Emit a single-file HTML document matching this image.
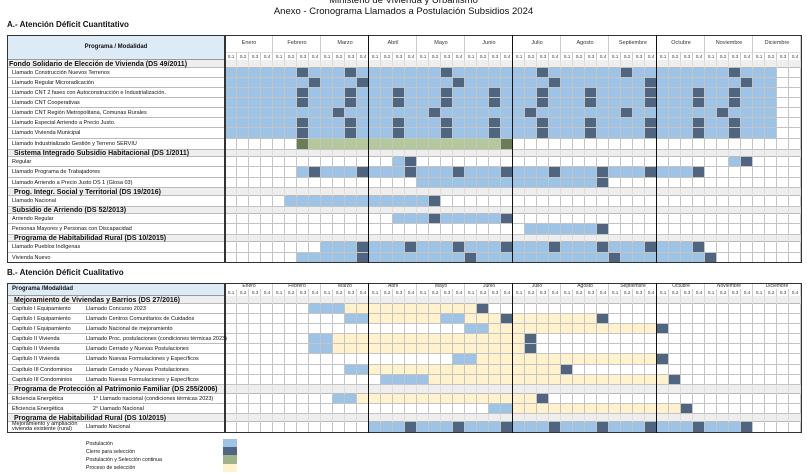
<!DOCTYPE html>
<html><head><meta charset="utf-8">
<style>
*{margin:0;padding:0;box-sizing:border-box}
body{width:807px;height:473px;background:#fff;position:relative;overflow:hidden;font-family:"Liberation Sans",sans-serif;color:#111}
.a{position:absolute;white-space:nowrap}
.t{font-size:9.5px;left:0;width:807px;text-align:center}
.sec{font-size:8px;font-weight:bold;left:7px}
.lbl{font-size:5.5px;line-height:1}
.grp{font-size:7px;font-weight:bold;line-height:1}
.mon{display:flex;font-size:5.5px;color:#333}
.mon div{flex:1;text-align:center}
.ss{display:flex;font-size:4.3px;color:#333}
.ss span{width:12px;text-align:center}
.leg{font-size:5.2px;left:86px}
</style></head><body>
<div class="a t" style="top:-5px">Ministerio de Vivienda y Urbanismo</div>
<div class="a t" style="top:6px">Anexo - Cronograma Llamados a Postulación Subsidios 2024</div>
<div class="a sec" style="top:20px">A.- Atención Déficit Cuantitativo</div>
<div class="a sec" style="top:268px">B.- Atención Déficit Cualitativo</div>
<div id="g"></div>

<div class="a" style="left:7px;top:35px;width:218px;height:25px;line-height:25px;text-align:center;font-size:6px;font-weight:bold">Programa / Modalidad</div>
<div class="a mon" style="left:225px;top:40px;width:576px">
<div>Enero</div><div>Febrero</div><div>Marzo</div><div>Abril</div><div>Mayo</div><div>Junio</div><div>Julio</div><div>Agosto</div><div>Septiembre</div><div>Octubre</div><div>Noviembre</div><div>Diciembre</div></div>
<div class="a ss" style="left:225px;top:54px">
<span>S.1</span><span>S.2</span><span>S.3</span><span>S.4</span><span>S.1</span><span>S.2</span><span>S.3</span><span>S.4</span><span>S.1</span><span>S.2</span><span>S.3</span><span>S.4</span><span>S.1</span><span>S.2</span><span>S.3</span><span>S.4</span><span>S.1</span><span>S.2</span><span>S.3</span><span>S.4</span><span>S.1</span><span>S.2</span><span>S.3</span><span>S.4</span><span>S.1</span><span>S.2</span><span>S.3</span><span>S.4</span><span>S.1</span><span>S.2</span><span>S.3</span><span>S.4</span><span>S.1</span><span>S.2</span><span>S.3</span><span>S.4</span><span>S.1</span><span>S.2</span><span>S.3</span><span>S.4</span><span>S.1</span><span>S.2</span><span>S.3</span><span>S.4</span><span>S.1</span><span>S.2</span><span>S.3</span><span>S.4</span></div>

<div class="a grp" style="left:9px;top:60.5px">Fondo Solidario de Elección de Vivienda (DS 49/2011)</div>
<div class="a lbl" style="left:12px;top:70.5px">Llamado Construcción Nuevos Terrenos</div>
<div class="a lbl" style="left:12px;top:80.5px">Llamado Regular Microradicación</div>
<div class="a lbl" style="left:12px;top:90.5px">Llamado CNT 2 fases con Autoconstrucción e Industrialización.</div>
<div class="a lbl" style="left:12px;top:100.5px">Llamado CNT Cooperativas</div>
<div class="a lbl" style="left:12px;top:110.5px">Llamado CNT Región Metropolitana, Comunas Rurales</div>
<div class="a lbl" style="left:12px;top:120.5px">Llamado Especial Arriendo a Precio Justo.</div>
<div class="a lbl" style="left:12px;top:130.5px">Llamado Vivienda Municipal</div>
<div class="a lbl" style="left:12px;top:141.5px">Llamado Industrializado Gestión y Terreno SERVIU</div>
<div class="a grp" style="left:14px;top:150px">Sistema Integrado Subsidio Habitacional (DS 1/2011)</div>
<div class="a lbl" style="left:12px;top:159.5px">Regular</div>
<div class="a lbl" style="left:12px;top:169.5px">Llamado Programa de Trabajadores</div>
<div class="a lbl" style="left:12px;top:180.5px">Llamado Arriendo a Precio Justo DS 1 (Glosa 03)</div>
<div class="a grp" style="left:14px;top:188.5px">Prog. Integr. Social y Territorial (DS 19/2016)</div>
<div class="a lbl" style="left:12px;top:198.5px">Llamado Nacional</div>
<div class="a grp" style="left:12px;top:207px">Subsidio de Arriendo (DS 52/2013)</div>
<div class="a lbl" style="left:12px;top:216.5px">Arriendo Regular</div>
<div class="a lbl" style="left:12px;top:226.5px">Personas Mayores y Personas con Discapacidad</div>
<div class="a grp" style="left:14px;top:235px">Programa de Habitabilidad Rural (DS 10/2015)</div>
<div class="a lbl" style="left:12px;top:244.5px">Llamado Pueblos Indígenas</div>
<div class="a lbl" style="left:12px;top:255.5px">Vivienda Nuevo</div>

<div class="a" style="left:12px;top:285.5px;font-size:6px;font-weight:bold">Programa /Modalidad</div>
<div class="a mon" style="left:225px;top:283px;width:576px;font-size:5px">
<div>Enero</div><div>Febrero</div><div>Marzo</div><div>Abril</div><div>Mayo</div><div>Junio</div><div>Julio</div><div>Agosto</div><div>Septiembre</div><div>Octubre</div><div>Noviembre</div><div>Diciembre</div></div>
<div class="a ss" style="left:225px;top:290px">
<span>S.1</span><span>S.2</span><span>S.3</span><span>S.4</span><span>S.1</span><span>S.2</span><span>S.3</span><span>S.4</span><span>S.1</span><span>S.2</span><span>S.3</span><span>S.4</span><span>S.1</span><span>S.2</span><span>S.3</span><span>S.4</span><span>S.1</span><span>S.2</span><span>S.3</span><span>S.4</span><span>S.1</span><span>S.2</span><span>S.3</span><span>S.4</span><span>S.1</span><span>S.2</span><span>S.3</span><span>S.4</span><span>S.1</span><span>S.2</span><span>S.3</span><span>S.4</span><span>S.1</span><span>S.2</span><span>S.3</span><span>S.4</span><span>S.1</span><span>S.2</span><span>S.3</span><span>S.4</span><span>S.1</span><span>S.2</span><span>S.3</span><span>S.4</span><span>S.1</span><span>S.2</span><span>S.3</span><span>S.4</span></div>

<div class="a grp" style="left:14px;top:296.5px">Mejoramiento de Viviendas y Barrios (DS 27/2016)</div>
<div class="a lbl" style="left:12px;top:306.5px">Capítulo I Equipamiento</div><div class="a lbl" style="left:86px;top:306.5px">Llamado Concurso 2023</div>
<div class="a lbl" style="left:12px;top:316.5px">Capítulo I Equipamiento</div><div class="a lbl" style="left:86px;top:316.5px">Llamado Centros Comunitarios de Cuidados</div>
<div class="a lbl" style="left:12px;top:326.5px">Capítulo I Equipamiento</div><div class="a lbl" style="left:86px;top:326.5px">Llamado Nacional de mejoramiento</div>
<div class="a lbl" style="left:12px;top:336.5px">Capítulo II Vivienda</div><div class="a lbl" style="left:86px;top:336.5px">Llamado Proc. postulaciones (condiciones térmicas 2023)</div>
<div class="a lbl" style="left:12px;top:346.5px">Capítulo II Vivienda</div><div class="a lbl" style="left:86px;top:346.5px">Llamado Cerrado y Nuevas Postulaciones</div>
<div class="a lbl" style="left:12px;top:356.5px">Capítulo II Vivienda</div><div class="a lbl" style="left:86px;top:356.5px">Llamado Nuevas Formulaciones y Específicos</div>
<div class="a lbl" style="left:12px;top:367.5px">Capítulo III Condominios</div><div class="a lbl" style="left:86px;top:367.5px">Llamado Cerrado y Nuevas Postulaciones</div>
<div class="a lbl" style="left:12px;top:377.5px">Capítulo III Condominios</div><div class="a lbl" style="left:86px;top:377.5px">Llamado Nuevas Formulaciones y Específicos</div>
<div class="a grp" style="left:14px;top:386px">Programa de Protección al Patrimonio Familiar (DS 255/2006)</div>
<div class="a lbl" style="left:12px;top:396.5px">Eficiencia Energética</div><div class="a lbl" style="left:93px;top:396.5px">1° Llamado nacional (condiciones térmicas 2023)</div>
<div class="a lbl" style="left:12px;top:406.5px">Eficiencia Energética</div><div class="a lbl" style="left:93px;top:406.5px">2° Llamado Nacional</div>
<div class="a grp" style="left:14px;top:414.5px">Programa de Habitabilidad Rural (DS 10/2015)</div>
<div class="a lbl" style="left:12px;top:421.5px">Mejoramiento y ampliación<br>vivienda existente (rural)</div><div class="a lbl" style="left:86px;top:424.5px">Llamado Nacional</div>

<div class="a leg" style="top:441px">Postulación</div>
<div class="a leg" style="top:449px">Cierre para selección</div>
<div class="a leg" style="top:457px">Postulación y Selección continua</div>
<div class="a leg" style="top:464.5px">Proceso de selección</div>
<div class="a" style="left:223px;top:439px;width:14px;height:8px;background:#9dc3e6"></div>
<div class="a" style="left:223px;top:447px;width:14px;height:8px;background:#4f6580"></div>
<div class="a" style="left:223px;top:455px;width:14px;height:9px;background:#9fb38a"></div>
<div class="a" style="left:223px;top:464px;width:14px;height:8px;background:#fff2cc"></div>

<script>
var C={'.':'#ffffff','b':'#9dc3e6','d':'#4f6580','g':'#b4c99b','G':'#6b7d56','y':'#fff2cc'};
var g=document.getElementById('g');
function el(x,y,w,h,st){var d=document.createElement('div');d.className='a';d.style.cssText='left:'+x+'px;top:'+y+'px;width:'+w+'px;height:'+h+'px;'+st;g.appendChild(d);}
var W='............';
function row(y0,y1,p){
  if(p==='G'){el(7,y0,794,y1-y0,'background:#eeeeee;border-bottom:1px solid #bbb');
    for(var i=0;i<48;i++)el(225+12*i,y0,12,y1-y0,'border-right:1px solid #ddd');return;}
  el(7,y0,218,y1-y0,'border-bottom:1px solid #bbb');
  for(var i=0;i<48;i++){el(225+12*i,y0,12,y1-y0,'background:'+C[p[i]]+';border-right:1px solid #c4c4c4;border-bottom:1px solid #c4c4c4');}
}
var A=[[60,68,'G'],
[68,78,'bbbbbbdbbbdb'+'bbbbbbdbbbbb'+'bbdbbbbbbdbb'+'bbbbbbdbbb..'],
[78,88,'bbbbbbbdbbbd'+'bbbbbbbdbbbb'+'bbbdbbbbbbbd'+'bbbbbbbdbb..'],
[88,98,'bbbbbbdbbbdb'+'bbdbbbdbbbdb'+'bbdbbbdbbbbd'+'bbbdbbdbbb..'],
[98,108,'bbbbbbdbbbdb'+'bbdbbbdbbbdb'+'bbdbbbdbbbbd'+'bbbdbbdbbb..'],
[108,118,'bbbbbbbbbdbb'+'bbbbbdbbbbbb'+'bdbbbbbbbdbb'+'bbbbbdbbbb..'],
[118,128,'bbbbbbdbbbdb'+'bbdbbbdbbbdb'+'bbdbbbdbbbbd'+'bbbdbbdbbb..'],
[128,139,'bbbbbbdbbbdb'+'bbdbbbdbbbdb'+'bbdbbbdbbbbd'+'bbbdbbdbbb..'],
[139,150,'......Gggggg'+'gggggggggggG'+W+W],
[150,157,'G'],
[157,167,W+'..bd........'+W+'......bd....'],
[167,178,'......bdbbbd'+'bbbdbbbdbbbd'+'bbbdbbbdbbbd'+'bbbd........'],
[178,188,W+'....bbbbbbbb'+'bbbbbbbd....'+W],
[188,196,'G'],
[196,207,'.....bbbbbbb'+'bbbbbd......'+W+W],
[207,214,'G'],
[214,224,W+'..bbbdbbbbbd'+W+W],
[224,235,W+W+'.bbbbbbd....'+W],
[235,242,'G'],
[242,253,'........bbbd'+'bbbdbbbdbbbd'+'bbbdbbbdbbbd'+'bbbd........'],
[253,263,'......bbbbbd'+'bbbbbbbbdbbb'+'bbbbbbbbdbbb'+'bbbbd.......']];
var Y='yyyyyyyyyyyy';
var B=[[296,304,'G'],
[304,314,'.......bbbyy'+'yyyyyyyyyd..'+W+W],
[314,324,'..........bb'+'yyyyyybbyyyd'+'yyyyyyyd....'+W],
[324,334,W+'........bbyy'+Y+'d...........'],
[334,344,'.......bbyyy'+Y+'yd..........'+W],
[344,354,'.......bbyyy'+Y+'yd..........'+W],
[354,365,W+'.......bbyyy'+Y+'d...........'],
[365,375,'..........bb'+Y+'yyyyd.......'+W],
[375,385,W+'.bbbbyyyyyyy'+Y+'yd..........'],
[385,394,'G'],
[394,404,'.........bby'+Y+'yyd.........'+W],
[404,414,W+'..........bb'+Y+'yyd.........'],
[414,422,'G'],
[422,433,W+'bbbdbbbdbbbd'+'bbbdbbbdbbbd'+'bbbdbbbd....']];
A.forEach(function(r){row(r[0],r[1],r[2]);});
B.forEach(function(r){row(r[0],r[1],r[2]);});
el(7,35,218,25,'background:#ddebf7;border-bottom:1px solid #999');
for(var m=0;m<12;m++){el(225+48*m,35,48,17,'border-right:1px solid #ccc');
 for(var s=0;s<4;s++)el(225+48*m+12*s,52,12,8,'border-right:1px solid #ccc;border-top:1px solid #ddd');}
el(7,283,218,13,'background:#ddebf7;border-bottom:1px solid #999');
for(var m=0;m<12;m++){el(225+48*m,283,48,6,'border-right:1px solid #ccc');
 for(var s=0;s<4;s++)el(225+48*m+12*s,289,12,7,'border-right:1px solid #ccc');}
el(7,35,795,228,'border:1px solid #333');
el(7,283,795,150,'border:1px solid #333');
[[35,263],[283,433]].forEach(function(v){
 el(224,v[0],1.5,v[1]-v[0],'background:#333');
 for(var q=1;q<4;q++)el(225+144*q-1,v[0],1.3,v[1]-v[0],'background:#111');});
</script>
</body></html>
